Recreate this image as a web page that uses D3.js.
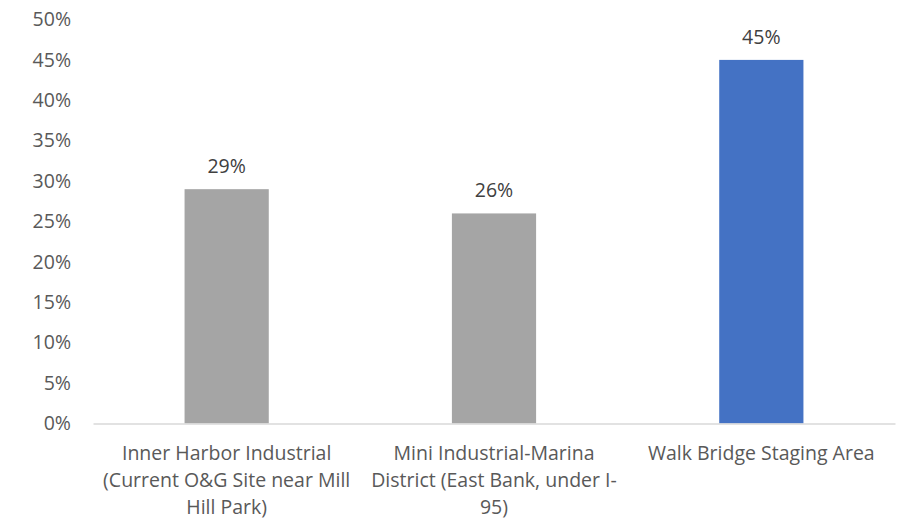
<!DOCTYPE html>
<html>
<head>
<meta charset="utf-8">
<script src="https://cdn.jsdelivr.net/npm/d3@7"></script>
<style>
  html, body { margin: 0; padding: 0; background: #fff; }
  svg { display: block; font-family: "Open Sans", "Noto Sans", sans-serif; }
</style>
</head>
<body>
<svg id="chart" width="905" height="521"></svg>
<script>
// Share of responses by site
const categories = [
  "Inner Harbor Industrial (Current O&G Site near Mill Hill Park)",
  "Mini Industrial-Marina District (East Bank, under I-95)",
  "Walk Bridge Staging Area"
];
const categoryLines = [
  ["Inner Harbor Industrial", "(Current O&G Site near Mill", "Hill Park)"],
  ["Mini Industrial-Marina", "District (East Bank, under I-", "95)"],
  ["Walk Bridge Staging Area"]
];
const values = [0.29, 0.26, 0.45];
const barColors = ["#A5A5A5", "#A5A5A5", "#4472C4"];
const yTicks = [0, 0.05, 0.10, 0.15, 0.20, 0.25, 0.30, 0.35, 0.40, 0.45, 0.50];

const svg = d3.select("#chart");
const margin = { left: 93, right: 10, top: 19.5, bottom: 97.5 };
const W = 905, H = 521;
const fontSize = "19.5px";

const x = d3.scaleBand()
  .domain(categories)
  .range([margin.left, W - margin.right])
  .padding(0);

const y = d3.scaleLinear()
  .domain([0, 0.5])
  .range([H - margin.bottom, margin.top]);

const barW = x.bandwidth() * 0.315;
const fmt = d3.format(".0%");

// Y axis: labels only
const yAxis = d3.axisLeft(y).tickValues(yTicks).tickFormat(fmt).tickSize(0).tickPadding(22);
const gy = svg.append("g").attr("transform", `translate(${margin.left},0)`).call(yAxis);
gy.select(".domain").remove();
gy.selectAll("text")
  .attr("fill", "#595959")
  .style("font-size", fontSize)
  .style("font-family", "'Open Sans', sans-serif");

// Bars
svg.append("g").selectAll("rect")
  .data(values)
  .join("rect")
  .attr("x", (d, i) => x(categories[i]) + (x.bandwidth() - barW) / 2)
  .attr("y", d => y(d))
  .attr("width", barW)
  .attr("height", d => y(0) - y(d))
  .attr("fill", (d, i) => barColors[i]);

// Baseline
const xAxis = d3.axisBottom(x).tickSize(0).tickFormat("");
const gx = svg.append("g").attr("transform", `translate(0,${y(0)})`).call(xAxis);
gx.select(".domain").attr("stroke", "#D9D9D9").attr("stroke-width", 1.3);

// Value labels
svg.append("g").selectAll("text")
  .data(values)
  .join("text")
  .attr("x", (d, i) => x(categories[i]) + x.bandwidth() / 2)
  .attr("y", d => y(d) - 16)
  .attr("text-anchor", "middle")
  .attr("fill", "#404040")
  .style("font-size", fontSize)
  .text(d => fmt(d));

// Category labels
const cl = svg.append("g").selectAll("text")
  .data(categoryLines)
  .join("text")
  .attr("x", (d, i) => x(categories[i]) + x.bandwidth() / 2)
  .attr("y", y(0) + 36)
  .attr("text-anchor", "middle")
  .attr("fill", "#595959")
  .style("font-size", fontSize);
cl.selectAll("tspan")
  .data(d => d)
  .join("tspan")
  .attr("x", function () { return this.parentNode.getAttribute("x"); })
  .attr("dy", (d, i) => i === 0 ? 0 : 27)
  .text(d => d);
</script>
</body>
</html>
